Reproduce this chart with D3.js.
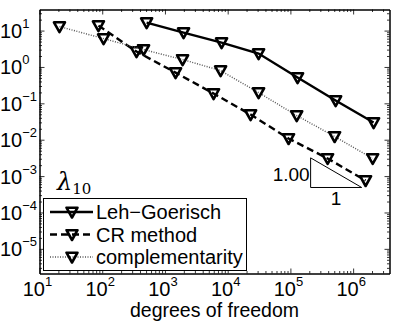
<!DOCTYPE html>
<html>
<head>
<meta charset="utf-8">
<script src="https://cdn.jsdelivr.net/npm/d3@7"></script>
<style>
  body { margin: 0; background: #fff; }
  text { font-family: "Liberation Sans", Arial, sans-serif; fill: #000; }
</style>
</head>
<body>
<div id="chart"></div>
<script>
// degrees of freedom / eigenvalue error
var dofLeh = [510, 1980, 7990, 31100, 130000, 526000, 2120000];
var errLeh = [16.6, 8.8, 4.68, 2.33, 0.51, 0.119, 0.0297];

var dofCR = [87, 352, 1476, 5960, 23200, 93500, 392000, 1580000];
var errCR = [13.7, 2.65, 0.70, 0.186, 0.0492, 0.0108, 0.00305, 0.000757];

var dofComp = [20.8, 105, 456, 1910, 7710, 31100, 126000, 507000, 2050000];
var errComp = [12.9, 6.03, 3.01, 1.60, 0.796, 0.198, 0.0462, 0.01225, 0.00305];

var seriesNames = ["Leh\u2212Goerisch", "CR method", "complementarity"];

var xExponents = [1, 2, 3, 4, 5, 6];
var yExponents = [1, 0, -1, -2, -3, -4, -5];

// slope triangle: corner points in data units and its labels
var slopeX = [2.1e5, 1.37e6];
var slopeY0 = 4.86e-4;
var slopeRate = 1.00;
var slopeLabels = ["1.00", "1"];

(function() {
  var width = 395, height = 324;
  var m = {left: 39.5, right: 389.5, top: 9.5, bottom: 273.5};

  var x = d3.scaleLog().domain([10, 3.8e6]).range([m.left, m.right]);
  var y = d3.scaleLog().domain([2.1e-6, 38]).range([m.bottom, m.top]);

  var svg = d3.select("#chart").append("svg")
      .attr("width", width)
      .attr("height", height);

  function minorTicks(scale) {
    var d = scale.domain(), out = [];
    for (var k = Math.floor(Math.log10(d[0])); k <= Math.ceil(Math.log10(d[1])); k++) {
      for (var j = 2; j <= 9; j++) {
        var v = j * Math.pow(10, k);
        if (v > d[0] && v < d[1]) out.push(v);
      }
    }
    return out;
  }
  var xMajor = xExponents.map(function(e) { return Math.pow(10, e); });
  var yMajor = yExponents.map(function(e) { return Math.pow(10, e); });

  // inward ticks on all four sides
  function sideAxis(axisFn, scale, major, tr) {
    svg.append("g").attr("transform", tr)
        .call(axisFn(scale).tickValues(minorTicks(scale)).tickSize(-2.5).tickSizeOuter(0).tickFormat(""));
    svg.append("g").attr("transform", tr)
        .call(axisFn(scale).tickValues(major).tickSize(-5).tickSizeOuter(0).tickFormat(""));
  }
  sideAxis(d3.axisBottom, x, xMajor, "translate(0," + m.bottom + ")");
  sideAxis(d3.axisTop, x, xMajor, "translate(0," + m.top + ")");
  sideAxis(d3.axisLeft, y, yMajor, "translate(" + m.left + ",0)");
  sideAxis(d3.axisRight, y, yMajor, "translate(" + m.right + ",0)");
  svg.selectAll(".domain").attr("stroke", "#000").attr("stroke-width", 1);
  svg.selectAll(".tick line").attr("stroke", "#000").attr("stroke-width", 0.8);

  // tick labels 10^k
  xExponents.forEach(function(e) {
    var t = svg.append("text")
        .attr("x", x(Math.pow(10, e)) - 2)
        .attr("y", 296)
        .attr("text-anchor", "middle")
        .style("font-size", "20px");
    t.append("tspan").text("10");
    t.append("tspan").attr("dy", -10).style("font-size", "13px").text(e);
  });
  yExponents.forEach(function(e) {
    var t = svg.append("text")
        .attr("x", 0)
        .attr("y", y(Math.pow(10, e)) + 7.5)
        .style("font-size", "20px");
    t.append("tspan").text("10");
    t.append("tspan").attr("dy", -10).style("font-size", "13px")
        .text(e < 0 ? "\u2212" + (-e) : e);
  });

  svg.append("text")
      .attr("x", (m.left + m.right) / 2)
      .attr("y", 317)
      .attr("text-anchor", "middle")
      .style("font-size", "19.5px")
      .text("degrees of freedom");

  // series
  var series = [
    {name: seriesNames[0], dof: dofLeh, err: errLeh, dash: null, width: 2.4, color: "#000"},
    {name: seriesNames[1], dof: dofCR, err: errCR, dash: "7,4", width: 2.4, color: "#000"},
    {name: seriesNames[2], dof: dofComp, err: errComp, dash: "1,1.5", width: 1.4, color: "#555"}
  ];

  var line = d3.line()
      .x(function(d) { return x(d[0]); })
      .y(function(d) { return y(d[1]); });

  var tri = "M-5.5,-4.3L5.5,-4.3L0,5.5Z";

  series.forEach(function(s) {
    var pts = s.dof.map(function(v, i) { return [v, s.err[i]]; });
    svg.append("path")
        .datum(pts)
        .attr("d", line)
        .attr("fill", "none")
        .attr("stroke", s.color)
        .attr("stroke-width", s.width)
        .attr("stroke-dasharray", s.dash);
    svg.append("g").selectAll("path")
        .data(pts)
      .enter().append("path")
        .attr("d", tri)
        .attr("transform", function(d) { return "translate(" + x(d[0]) + "," + y(d[1]) + ")"; })
        .attr("fill", "none")
        .attr("stroke", "#000")
        .attr("stroke-width", 2.6)
        .attr("stroke-linejoin", "round");
  });

  // slope triangle
  var slopeY1 = slopeY0 * Math.pow(slopeX[1] / slopeX[0], slopeRate);
  var sx0 = x(slopeX[0]), sx1 = x(slopeX[1]), sy0 = y(slopeY0), sy1 = y(slopeY1);
  svg.append("path")
      .attr("d", "M" + sx0 + "," + sy1 + "L" + sx0 + "," + sy0 + "L" + sx1 + "," + sy0 + "Z")
      .attr("fill", "none")
      .attr("stroke", "#000")
      .attr("stroke-width", 1);
  svg.append("text")
      .attr("x", sx0 - 1).attr("y", (sy0 + sy1) / 2 + 8)
      .attr("text-anchor", "end")
      .style("font-size", "19px")
      .text(slopeLabels[0]);
  svg.append("text")
      .attr("x", (sx0 + sx1) / 2).attr("y", sy0 + 18)
      .attr("text-anchor", "middle")
      .style("font-size", "19px")
      .text(slopeLabels[1]);

  // lambda label
  var lam = svg.append("text")
      .attr("x", 57).attr("y", 190)
      .style("font-family", "'DejaVu Serif', serif");
  lam.append("tspan").style("font-style", "italic").style("font-size", "24px").text("\u03bb");
  lam.append("tspan").attr("dy", 4).style("font-size", "15px").text("10");

  // legend
  var lg = svg.append("g");
  lg.append("rect")
      .attr("x", 43.5).attr("y", 198.5)
      .attr("width", 203).attr("height", 72)
      .attr("fill", "#fff")
      .attr("stroke", "#000");
  series.forEach(function(s, i) {
    var ly = 212 + i * 22.5;
    lg.append("line")
        .attr("x1", 50).attr("x2", 93).attr("y1", ly).attr("y2", ly)
        .attr("stroke", s.color)
        .attr("stroke-width", s.width)
        .attr("stroke-dasharray", s.dash);
    lg.append("path")
        .attr("d", tri)
        .attr("transform", "translate(72," + ly + ")")
        .attr("fill", "none")
        .attr("stroke", "#000")
        .attr("stroke-width", 2.6)
        .attr("stroke-linejoin", "round");
    lg.append("text")
        .attr("x", 96).attr("y", ly + 7)
        .style("font-size", "20px")
        .text(s.name);
  });
})();
</script>
</body>
</html>
